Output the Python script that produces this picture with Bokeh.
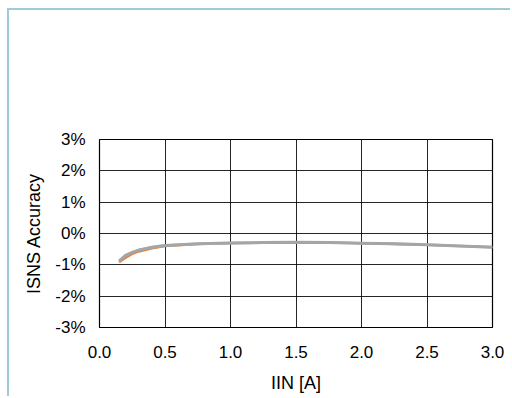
from bokeh.plotting import figure
from bokeh.models import FixedTicker, PrintfTickFormatter, NumeralTickFormatter, Label, Range1d
from bokeh.embed import file_html
from bokeh.resources import INLINE

current_a = [0.15, 0.2, 0.25, 0.3, 0.4, 0.5, 0.75, 1.0, 1.25, 1.5, 1.75, 2.0, 2.25, 2.5, 2.75, 3.0]
acc_orange = [-0.92, -0.78, -0.66, -0.58, -0.48, -0.41, -0.34, -0.31, -0.30, -0.29, -0.29, -0.31, -0.34, -0.37, -0.40, -0.43]
acc_blue = [-0.87, -0.69, -0.60, -0.52, -0.44, -0.38, -0.33, -0.30, -0.29, -0.28, -0.29, -0.31, -0.33, -0.36, -0.40, -0.44]
acc_gray = [-0.88, -0.70, -0.60, -0.53, -0.44, -0.38, -0.33, -0.30, -0.29, -0.28, -0.29, -0.31, -0.33, -0.36, -0.40, -0.44]
x_ticks = [0.0, 0.5, 1.0, 1.5, 2.0, 2.5, 3.0]
y_ticks = [-3, -2, -1, 0, 1, 2, 3]

FONT = "Liberation Sans"

p = figure(width=503, height=388, output_backend="svg", toolbar_location=None,
           x_range=Range1d(0, 3), y_range=Range1d(-3, 3),
           min_border_left=90, min_border_right=20, min_border_top=129, min_border_bottom=71)
p.styles = {"border-left": "2px solid #9fcad6", "border-top": "2px solid #9fcad6",
            "margin-left": "7px", "margin-top": "8px"}
p.outline_line_color = "black"
p.outline_line_width = 1.2

p.line(current_a, acc_orange, line_color="#ED7D31", line_width=2)
p.line(current_a, acc_blue, line_color="#9DC3E6", line_width=2.5)
p.line(current_a, acc_gray, line_color="#A5A5A5", line_width=3)

p.xaxis.ticker = FixedTicker(ticks=x_ticks)
p.yaxis.ticker = FixedTicker(ticks=y_ticks)
p.xaxis.formatter = NumeralTickFormatter(format="0.0")
p.yaxis.formatter = PrintfTickFormatter(format="%d%%")

for ax in (p.xaxis, p.yaxis):
    ax.axis_line_color = None
    ax.major_tick_line_color = None
    ax.minor_tick_line_color = None
    ax.major_tick_out = 0
    ax.major_label_text_font = FONT
    ax.major_label_text_font_size = "17px"
    ax.major_label_text_color = "black"
    ax.axis_label_text_font = FONT
    ax.axis_label_text_font_size = "18px"
    ax.axis_label_text_font_style = "normal"
    ax.axis_label_text_color = "black"

p.xaxis.axis_label = "IIN [A]"
p.yaxis.axis_label = "ISNS Accuracy"
p.xaxis.major_label_standoff = 18
p.xaxis.axis_label_standoff = 12
p.yaxis.major_label_standoff = 14
p.yaxis.axis_label_standoff = 8

p.grid.grid_line_color = "black"
p.grid.grid_line_width = 1
p.grid.grid_line_alpha = 0.85

p.add_layout(Label(x=3.0, y=3.0, text="aaa-032269", text_font=FONT, text_font_size="12px",
                   text_font_style="italic", text_align="right", text_baseline="bottom",
                   y_offset=3, text_color="black"))

open("out.html", "w").write(file_html(p, INLINE))
